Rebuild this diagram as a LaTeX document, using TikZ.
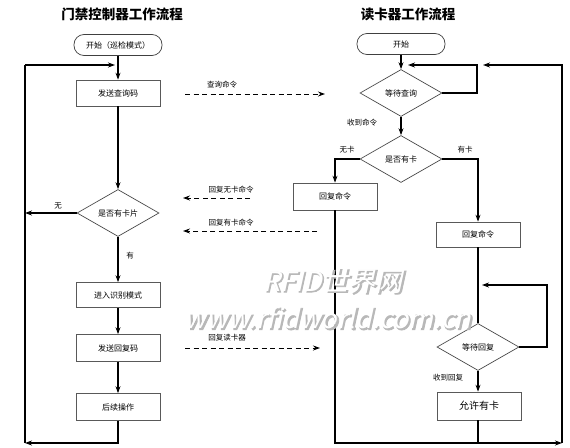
\documentclass[tikz,border=0pt]{standalone}
\usepackage{fontspec}
\setmainfont{Noto Sans CJK SC}
\newfontfamily\wmfont[FakeSlant=0.22,FakeBold=3]{Noto Sans CJK SC}
\newfontfamily\wmfontb[FakeSlant=0.22]{Noto Sans CJK SC}
\usetikzlibrary{arrows.meta,shapes.geometric}
\begin{document}
\begin{tikzpicture}[x=1pt,y=-1pt,
  flow/.style={line width=1.1pt,-{Stealth[length=7pt,width=5pt]}},
  plain/.style={line width=1.1pt},
  msg/.style={line width=0.9pt,dash pattern=on 5pt off 3.5pt,-{Stealth[length=7pt,width=5pt]}},
  procbox/.style={draw=black!65,line width=0.7pt,fill=white,minimum width=84pt,minimum height=26pt,inner sep=0pt,font=\fontsize{8}{9}\selectfont},
  termbox/.style={draw=black!75,line width=0.7pt,rounded corners=10pt,minimum width=88pt,minimum height=21pt,inner sep=0pt,font=\fontsize{8}{9}\selectfont},
  decision/.style={draw=black!70,line width=0.7pt,diamond,aspect=1.75,inner sep=0pt,minimum width=82pt,minimum height=47pt,fill=white,font=\fontsize{8}{9}\selectfont},
  ttl/.style={font=\bfseries\fontsize{13.5}{15}\selectfont,inner sep=0pt},
  lbl/.style={font=\fontsize{7.5}{9}\selectfont,inner sep=0pt}]
\fill[white] (0,0) rectangle (570,447);
\useasboundingbox (0,0) rectangle (570,447);

% titles
\node[ttl] (tL) at (122,14) {门禁控制器工作流程};
\node[ttl] (tR) at (408,14) {读卡器工作流程};

% left column
\node[termbox] (startL) at (118,45) {开始（巡检模式）};
\node[procbox] (sendQ) at (118,93) {发送查询码};
\node[decision] (d1) at (118,213) {是否有卡片};
\node[procbox,minimum height=25pt] (enter) at (118,295) {进入识别模式};
\node[procbox,minimum height=27pt] (sendR) at (118,348) {发送回复码};
\node[procbox,minimum height=27pt] (after) at (118,407) {后续操作};
\coordinate (lTop) at (25,65);
\coordinate (lBot) at (25,443);

\draw[flow] (startL) -- (sendQ);
\draw[flow,shorten >=3pt] (lTop) -- (lTop -| sendQ);
\draw[flow] (sendQ) -- (d1);
\draw[flow] (d1.west) -- (d1.west -| lTop);
\draw[flow] (d1) -- (enter);
\draw[flow] (enter) -- (sendR);
\draw[flow] (sendR) -- (after);
\draw[flow] (after.south) |- (lBot);
\draw[plain] (lBot) -- (lTop);
\node[lbl] (lNo) at (58,206) {无};
\node[lbl] (lYes) at (130,256) {有};

% right column
\node[termbox] (startR) at (401,44) {开始};
\node[decision] (d2) at (401,93) {等待查询};
\node[decision] (d3) at (401,159) {是否有卡};
\node[procbox,minimum height=27pt] (leftbox) at (335,196.5) {回复命令};
\node[procbox,minimum height=25pt] (rightbox) at (478,234.5) {回复命令};
\node[decision,minimum height=47pt] (d4) at (478,347) {等待回复};
\node[procbox,minimum height=28pt,font=\fontsize{10}{11}\selectfont] (allow) at (479,406) {允许有卡};
\coordinate (rIn) at (477,65);
\coordinate (rInTip) at (408,65);
\coordinate (rOut) at (562,65);
\coordinate (rOutTip) at (483,65);
\coordinate (rBot) at (562,443);
\coordinate (wLoopA) at (547,347);
\coordinate (wLoopB) at (547,285);
\coordinate (wLoopTip) at (482,285);

\draw[flow] (startR) -- (d2);
\draw[flow] (d2.east) -- (d2.east -| rIn) -- (rIn) -- (rInTip);
\draw[flow] (rBot) -- (rOut) -- (rOutTip);
\draw[flow] (d2) -- (d3);
\draw[flow] (d3.west) -| (leftbox.north);
\draw[flow] (d3.east) -| (rightbox.north);
\draw[plain] (rightbox.south) -- (d4.north -| rightbox.south);
\draw[flow] (d4.east) -- (wLoopA) -- (wLoopB) -- (wLoopTip);
\draw[flow] (d4.south) -- (d4.south |- allow.north);
\draw[plain] (allow.south -| d4.south) -- (d4.south |- rBot);
\draw[flow] (leftbox.south) |- (rBot);
\node[lbl] (rGot) at (362,123) {收到命令};
\node[lbl] (rNo) at (347,150) {无卡};
\node[lbl] (rYes) at (465,150) {有卡};
\node[lbl] (rGot2) at (448,378) {收到回复};

% messages
\coordinate (q1) at (185,94); \coordinate (q2) at (325,94);
\draw[msg] (q1) -- (q2);
\node[lbl] (qL) at (222,85) {查询命令};
\coordinate (n1) at (250,198); \coordinate (n2) at (183,198);
\draw[msg] (n1) -- (n2);
\node[lbl] (nL) at (231,190) {回复无卡命令};
\coordinate (y1) at (317,231); \coordinate (y2) at (183,231);
\draw[msg] (y1) -- (y2);
\node[lbl] (yL) at (231,223) {回复有卡命令};
\coordinate (r1) at (185,348); \coordinate (r2) at (320,348);
\draw[msg] (r1) -- (r2);
\node[lbl] (rL) at (227,338) {回复读卡器};

% watermark
\node[font=\wmfont\fontsize{27}{30}\selectfont,text=black!28,inner sep=0pt] (wm1s) at (334,282) {RFID世界网};
\node[font=\wmfontb\fontsize{27}{30}\selectfont,text=white,inner sep=0pt] (wm1) at (333,281) {RFID世界网};
\node[font=\wmfont\fontsize{27}{30}\selectfont,text=black!28,inner sep=0pt] (wm2s) at (329,319) {www.rfidworld.com.cn};
\node[font=\wmfontb\fontsize{27}{30}\selectfont,text=white,inner sep=0pt] (wm2) at (328,318) {www.rfidworld.com.cn};
\end{tikzpicture}
\end{document}
